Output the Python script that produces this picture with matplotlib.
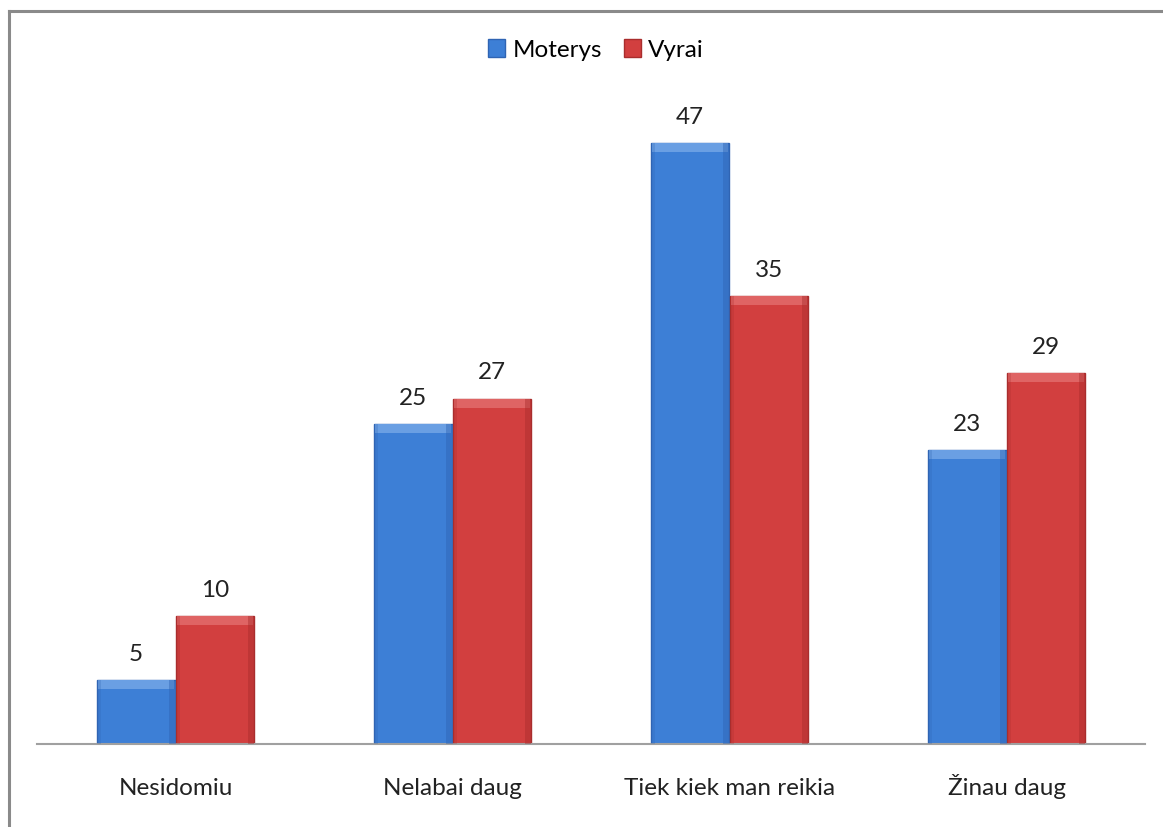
import matplotlib
matplotlib.use("Agg")
import matplotlib.pyplot as plt
import numpy as np

categories = ["Nesidomiu", "Nelabai daug", "Tiek kiek man reikia", "Žinau daug"]
moterys = [5, 25, 47, 23]
vyrai = [10, 27, 35, 29]
series_names = ["Moterys", "Vyrai"]

plt.rcParams['font.family'] = ['Lato', 'DejaVu Sans']

W, H = 1163, 827
fig = plt.figure(figsize=(W / 100, H / 100), dpi=100)
fig.patch.set_facecolor("white")

# outer border (left and top visible)
fig.add_artist(plt.Line2D([9 / W, 9 / W], [0, 1 - 11 / H], color="#8a8a8a", lw=2.2, transform=fig.transFigure))
fig.add_artist(plt.Line2D([9 / W, 1], [1 - 11 / H, 1 - 11 / H], color="#8a8a8a", lw=2.2, transform=fig.transFigure))

left, right = 37 / W, 1145 / W
bottom, top = (H - 744) / H, (H - 104.5) / H
ax = fig.add_axes([left, bottom, right - left, top - bottom])
ax.set_xlim(-0.5, 3.5)
ax.set_ylim(0, 50)

x = np.arange(len(categories))
bw = 0.285
colors = {"Moterys": ("#3d7fd6", "#2f64b3", "#6a9fe3"),
          "Vyrai": ("#d23f3f", "#a92d2d", "#df6464")}

FS = 17.5
for vals, name, off in [(moterys, "Moterys", -bw / 2), (vyrai, "Vyrai", bw / 2)]:
    main, dark, light = colors[name]
    ax.bar(x + off, vals, width=bw, color=main, edgecolor=dark, linewidth=1.0, zorder=2, label=name)
    # bevel highlight at top
    ax.bar(x + off, [0.7] * len(vals), bottom=[v - 0.7 for v in vals], width=bw * 0.96,
           color=light, linewidth=0, zorder=3)
    # side shading
    ax.bar(x + off + bw / 2 - bw * 0.04, vals, width=bw * 0.08, color=dark, alpha=0.45, linewidth=0, zorder=3)
    ax.bar(x + off - bw / 2 + bw * 0.03, vals, width=bw * 0.06, color=dark, alpha=0.25, linewidth=0, zorder=3)
    for xi, v in zip(x + off, vals):
        ax.annotate(str(v), (xi, v), xytext=(0, 11), textcoords="offset points",
                    ha="center", va="bottom", fontsize=FS, color="#222222")

for s in ["top", "right", "left"]:
    ax.spines[s].set_visible(False)
ax.spines["bottom"].set_color("#a0a0a0")
ax.spines["bottom"].set_linewidth(1.5)
ax.set_yticks([])
ax.set_xticks(x)
ax.set_xticklabels(categories, fontsize=FS, color="#222222")
ax.tick_params(axis="x", length=0, pad=37)
for t in ax.get_xticklabels():
    t.set_verticalalignment("baseline")

handles, labels = ax.get_legend_handles_labels()
leg = fig.legend(handles, labels, loc="center", bbox_to_anchor=(596 / W, 1 - 50 / H), ncol=2,
                 frameon=False, fontsize=FS, handlelength=0.7, handleheight=0.7,
                 handletextpad=0.3, columnspacing=0.9)

fig.savefig("out.png", dpi=100, facecolor="white")
